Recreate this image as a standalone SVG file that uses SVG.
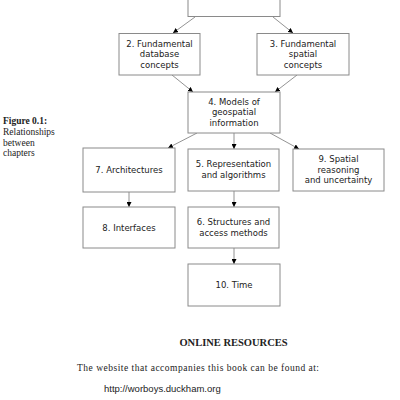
<svg xmlns="http://www.w3.org/2000/svg" width="400" height="400" viewBox="0 0 400 400">
<defs>
<marker id="ah" viewBox="0 0 10 10" refX="10" refY="5" markerWidth="5" markerHeight="5" orient="auto" markerUnits="userSpaceOnUse">
<path d="M0,0 L10,5 L0,10 z" fill="#000"/>
</marker>
<style>
.box{fill:#fff;stroke:#8a8a8a;stroke-width:1}
.nt{font-family:"DejaVu Sans",Verdana,sans-serif;font-size:8.5px;fill:#222;text-anchor:middle}
.cn{stroke:#777;stroke-width:0.8;fill:none;marker-end:url(#ah)}
.cap{font-family:"Liberation Serif","Times New Roman",serif;font-size:9.5px;fill:#222}
</style>
</defs>
<rect width="400" height="400" fill="#fff"/>
<g id="caption">
<text class="cap" x="3" y="124" font-weight="bold">Figure 0.1:</text>
<text class="cap" x="3" y="135">Relationships</text>
<text class="cap" x="3" y="145.5">between</text>
<text class="cap" x="3" y="156">chapters</text>
</g>
<g id="connectors">
<line class="cn" x1="195" y1="17" x2="173" y2="33"/>
<line class="cn" x1="273" y1="17" x2="293" y2="33"/>
<line class="cn" x1="172" y1="75" x2="193" y2="92"/>
<line class="cn" x1="297" y1="75" x2="275" y2="92"/>
<line class="cn" x1="197" y1="133" x2="168" y2="148"/>
<line class="cn" x1="234" y1="133" x2="234" y2="149"/>
<line class="cn" x1="270" y1="133" x2="299" y2="149"/>
<line class="cn" x1="129" y1="192" x2="129" y2="207"/>
<line class="cn" x1="234" y1="191" x2="234" y2="207"/>
<line class="cn" x1="234" y1="248" x2="234" y2="264"/>
</g>
<g id="n1"><rect class="box" x="188" y="-20" width="92" height="36.5"/></g>
<g id="n2"><rect class="box" x="119" y="33.5" width="81" height="41.5"/>
<text class="nt" x="159.5" y="46.5">2. Fundamental</text>
<text class="nt" x="159.5" y="57">database</text>
<text class="nt" x="159.5" y="67.5">concepts</text></g>
<g id="n3"><rect class="box" x="257" y="33.5" width="92" height="41.5"/>
<text class="nt" x="303" y="46.5">3. Fundamental</text>
<text class="nt" x="303" y="57">spatial</text>
<text class="nt" x="303" y="67.5">concepts</text></g>
<g id="n4"><rect class="box" x="188" y="92" width="92" height="41"/>
<text class="nt" x="234" y="104.5">4. Models of</text>
<text class="nt" x="234" y="115">geospatial</text>
<text class="nt" x="234" y="125.5">information</text></g>
<g id="n7"><rect class="box" x="83" y="148" width="92" height="44"/>
<text class="nt" x="129" y="173">7. Architectures</text></g>
<g id="n5"><rect class="box" x="188" y="149" width="91" height="42"/>
<text class="nt" x="233.5" y="167">5. Representation</text>
<text class="nt" x="233.5" y="177.5">and algorithms</text></g>
<g id="n9"><rect class="box" x="293" y="149" width="91" height="42"/>
<text class="nt" x="338.5" y="162">9. Spatial</text>
<text class="nt" x="338.5" y="172.5">reasoning</text>
<text class="nt" x="338.5" y="183">and uncertainty</text></g>
<g id="n8"><rect class="box" x="83" y="207" width="92" height="41"/>
<text class="nt" x="129" y="231">8. Interfaces</text></g>
<g id="n6"><rect class="box" x="188" y="207" width="91" height="41"/>
<text class="nt" x="233.5" y="225">6. Structures and</text>
<text class="nt" x="233.5" y="235.5">access methods</text></g>
<g id="n10"><rect class="box" x="188" y="264" width="92" height="42"/>
<text class="nt" x="234" y="288">10. Time</text></g>
<g id="footer">
<text x="233.5" y="346" text-anchor="middle" font-family="Liberation Serif,'Times New Roman',serif" font-size="10.5" font-weight="bold" fill="#222">ONLINE RESOURCES</text>
<text x="77" y="371" font-family="Liberation Serif,'Times New Roman',serif" font-size="9.5" fill="#222" textLength="242">The website that accompanies this book can be found at:</text>
<text x="104" y="392" font-family="Liberation Sans,Arial,sans-serif" font-size="9.5" fill="#222">http://worboys.duckham.org</text>
</g>
</svg>
